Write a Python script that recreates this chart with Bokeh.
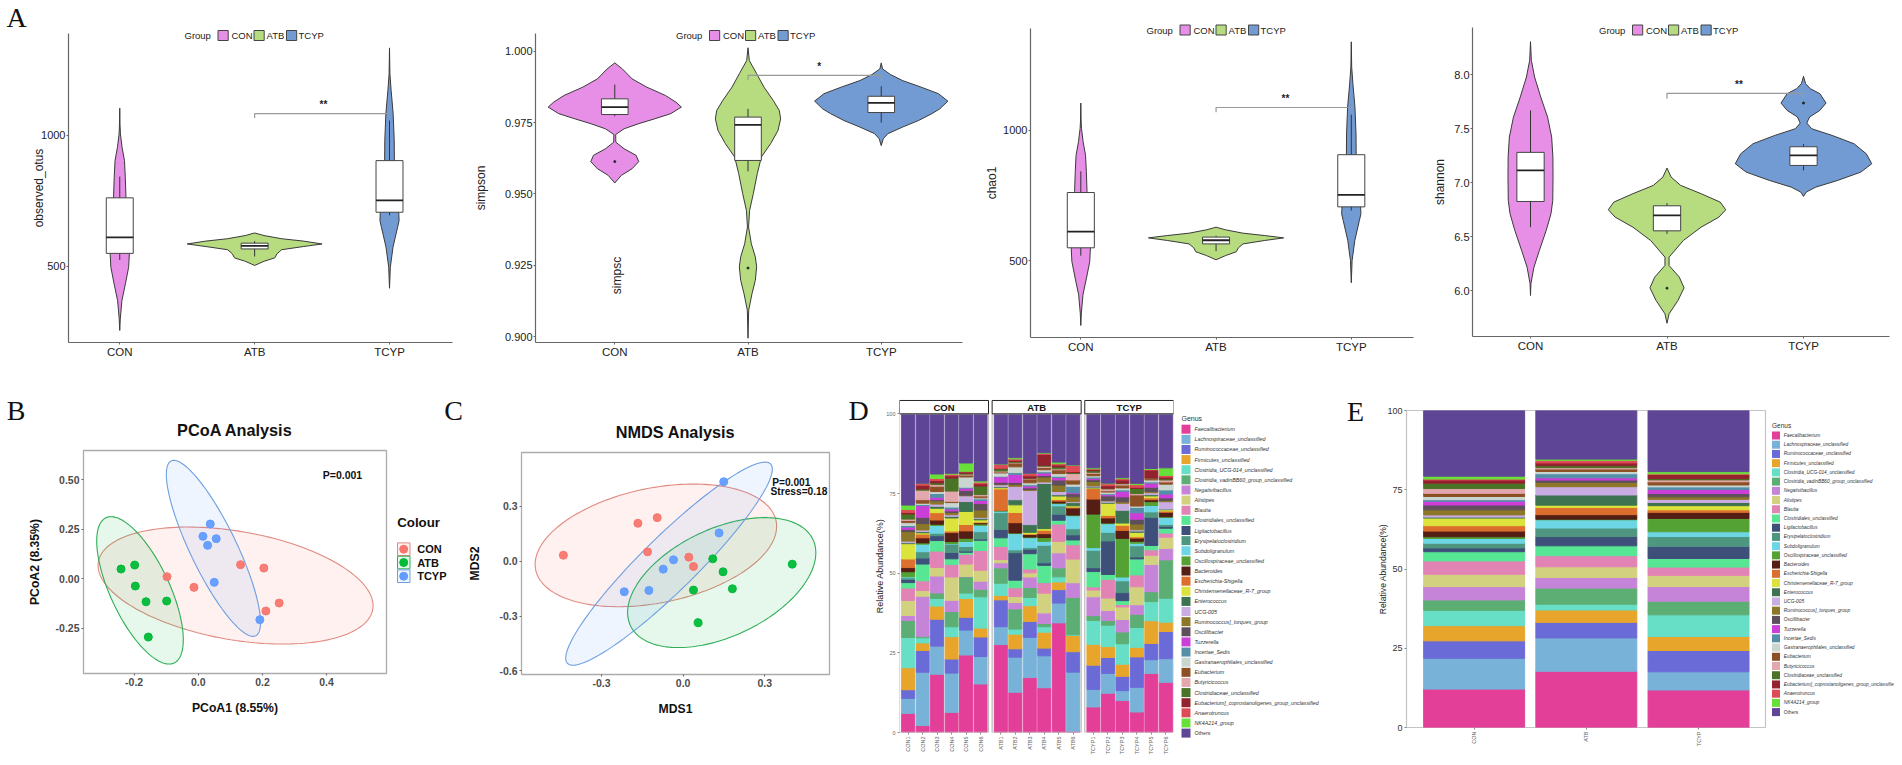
from math import pi
import numpy as np
from bokeh.embed import file_html
from bokeh.layouts import column, row
from bokeh.models import ColumnDataSource, FixedTicker, Label, Range1d
from bokeh.plotting import figure
from bokeh.resources import INLINE
from bokeh.core.properties import value

FONT = "Liberation Sans"
GROUPS = ["CON", "ATB", "TCYP"]
VCOL = ["#E78EE6", "#B6DC7F", "#739BD3"]
PCOL = ["#F8766D", "#00BA38", "#619CFF"]
ECOL = ["#E08A80", "#2EAE55", "#6D9FE0"]

# ---------- violin profiles: value, half width ----------
otus_con_y = [1104, 1040, 1006, 955, 904, 841, 765, 688, 625, 548, 497, 434, 370, 300, 256]
otus_con_w = [0, .002, .005, .017, .035, .041, .046, .055, .063, .071, .066, .042, .016, .004, 0]
otus_atb_y = [628, 618, 606, 597, 586, 576, 564, 548, 533, 520, 504]
otus_atb_w = [0, .07, .2, .36, .5, .36, .2, .165, .15, .07, 0]
otus_tcyp_y = [1334, 1235, 1172, 1083, 981, 904, 803, 714, 675, 650, 574, 497, 417]
otus_tcyp_w = [0, .003, .012, .027, .035, .036, .042, .068, .071, .06, .026, .006, 0]
otus_box = [[525, 550, 611, 762, 843], [538, 567, 579, 589, 597], [695, 707, 752, 904, 1057]]

simp_con_y = [.9959, .9938, .9903, .9874, .9845, .9821, .9804, .9781, .9763, .9746, .9728, .9708, .9681, .9658, .9635, .9613, .9588, .9565, .9538]
simp_con_w = [0, .057, .13, .24, .38, .46, .5, .42, .3, .18, .07, .007, .008, .07, .16, .18, .13, .05, 0]
simp_atb_y = [1.0012, .9967, .9921, .9874, .9827, .9792, .9763, .9722, .9676, .9629, .9571, .9501, .9442, .9384, .9325, .9279, .9244, .9197, .915, .9092, .8994]
simp_atb_w = [0, .01, .065, .12, .19, .235, .245, .225, .17, .1, .07, .04, .012, .004, .025, .055, .065, .055, .03, .005, 0]
simp_tcyp_y = [.9959, .9938, .9918, .9897, .9874, .9851, .9825, .9798, .9781, .9757, .9734, .9711, .9693, .9669]
simp_tcyp_w = [0, .01, .07, .16, .3, .43, .5, .44, .38, .28, .16, .05, .015, 0]
simp_box = [[.9772, .9778, .9804, .9833, .9883], [.9579, .9617, .9742, .9769, .9798], [.975, .9785, .9819, .9842, .9877]]
simp_out = [[.9613], [.924], []]

chao_con_y = [1105, 1040, 1008, 957, 905, 843, 766, 689, 625, 549, 497, 434, 370, 300, 252]
chao_atb_y = [629, 619, 606, 597, 588, 578, 565, 550, 535, 520, 504]
chao_tcyp_y = [1340, 1243, 1179, 1090, 987, 907, 808, 719, 680, 655, 578, 501, 416]
chao_box = [[520, 550, 612, 762, 843], [537, 565, 579, 591, 596], [693, 707, 753, 907, 1061]]

shan_con_y = [8.309, 8.136, 7.981, 7.796, 7.610, 7.425, 7.240, 7.054, 6.838, 6.714, 6.560, 6.374, 6.219, 6.065, 5.957]
shan_con_w = [0, .006, .03, .075, .125, .155, .164, .165, .163, .15, .115, .065, .025, .003, 0]
shan_atb_y = [7.138, 7.054, 6.977, 6.900, 6.822, 6.751, 6.683, 6.590, 6.467, 6.312, 6.235, 6.127, 6.028, 5.910, 5.787, 5.700]
shan_atb_w = [0, .03, .1, .25, .39, .43, .38, .25, .12, .015, .015, .09, .125, .08, .015, 0]
shan_tcyp_y = [7.988, 7.920, 7.873, 7.827, 7.740, 7.672, 7.611, 7.555, 7.502, 7.440, 7.363, 7.270, 7.178, 7.100, 7.023, 6.961, 6.915, 6.875]
shan_tcyp_w = [0, .015, .05, .12, .165, .12, .045, .024, .06, .21, .37, .46, .5, .42, .25, .09, .02, 0]
shan_box = [[6.59, 6.828, 7.116, 7.283, 7.672], [6.528, 6.556, 6.70, 6.788, 6.813], [7.116, 7.162, 7.255, 7.335, 7.36]]
shan_out = [[], [6.025], [7.74]]

# ---------- ordination points ----------
pcoa_x = [[-.0976, -.0135, .1318, .2045, .2522, .2107], [-.2408, -.1982, -.1962, -.1629, -.0986, -.1557], [.0374, .0145, .056, .0291, .0498, .192]]
pcoa_y = [[.0101, -.0438, .0708, .0539, -.1231, -.1635], [.0489, .0691, -.0371, -.1163, -.1129, -.295], [.2765, .2141, .2023, .1686, -.0185, -.2073]]
# ellipse extents: xmin, xmax, ymin, ymax, correlation
pcoa_ell = [[-.3124, .5449, -.3304, .2613, -.345], [-.3166, -.0467, -.4316, .3136, -.67], [-.0996, .1941, -.2916, .5984, -.84]]
nmds_x = [[-.44, -.1662, -.0953, -.1308, .0208, .0379], [.1088, .1466, .4008, .1809, .0379, .055], [.1491, .132, -.0354, -.0733, -.1259, -.2163]]
nmds_y = [[.0327, .2073, .2382, .0509, .0218, -.0291], [.0127, -.0582, -.0164, -.1509, -.1582, -.3364], [.4345, .1545, .0073, -.0436, -.16, -.1673]]
nmds_ell = [[-.5438, .3434, -.2491, .4218, .31], [-.2041, .4875, -.4727, .2382, .46], [-.4314, .3275, -.5691, .5418, .93]]

# ---------- genera ----------
GENERA = ["Faecalibacterium", "Lachnospiraceae_unclassified", "Ruminococcaceae_unclassified", "Firmicutes_unclassified",
          "Clostridia_UCG-014_unclassified", "Clostridia_vadinBB60_group_unclassified", "Negativibacillus", "Alistipes",
          "Blautia", "Clostridiales_unclassified", "Ligilactobacillus", "Erysipelatoclostridium", "Subdoligranulum",
          "Oscillospiraceae_unclassified", "Bacteroides", "Escherichia-Shigella", "Christensenellaceae_R-7_group",
          "Enterococcus", "UCG-005", "Ruminococcus]_torques_group", "Oscillibacter", "Tuzzerella", "Incertae_Sedis",
          "Gastranaerophilales_unclassified", "Eubacterium", "Butyricicoccus", "Clostridiaceae_unclassified",
          "Eubacterium]_coprostanoligenes_group_unclassified", "Anaerotruncus", "NK4A214_group", "Others"]
GCOL = ["#E33E98", "#78B2D8", "#6B6BD8", "#E7A52B", "#67DEC6", "#5DAE74", "#C684D8", "#D2D17F", "#E283B5", "#57E693",
        "#3E4F7A", "#4F9680", "#6CD6E4", "#54A234", "#541E14", "#DC6F2E", "#DBE33C", "#3D7350", "#C9ADE2", "#8C7628",
        "#5E4F5C", "#CB3FD8", "#548EA8", "#C9D6D0", "#8C5024", "#E2A8AE", "#4A7326", "#92222E", "#DE4A55", "#68E03A", "#5E4595"]

CON1 = [6.0, 4.7, 2.7, 6.9, 9.5, 5.3, 1.6, 4.7, 3.9, 1.7, 1.0, .5, .3, 1.6, 1.3, 2.7, 4.8, .3, .5, 3.0, .7, .7, .5, .9, .7, .4, 1.6, .5, .9, 1.4, 28.6]
CON2 = [2.2, 16.9, 6.9, 2.4, 1.6, .5, 12.7, 1.8, 3.1, 5.3, 1.9, 2, 2.4, .4, 1.6, 1.2, .4, .4, .5, 2, 2, 3.7, .4, .4, 1.1, 3, .4, 1.2, .5, .1, 22]
CON3 = [18.2, 8.8, 8.4, 4.1, 2.4, 1.7, 5.3, 2.7, 5.1, 3.3, 1.5, .8, 2.4, .4, 1.3, 2.3, 1.4, .6, .7, 1, .4, .7, 1.2, .6, 1.7, .5, .5, .8, .6, 1.4, 18.8]
CON4 = [6.3, 12.3, 4.4, 7, 3.1, 4.8, 3.5, 7.3, 3.9, 1.8, 2, 2.6, .2, .6, 2.8, .5, 4.1, .5, .5, .7, .5, .6, .6, 1.4, .4, 3.2, 4.1, .7, .5, .3, 18.6]
CON5 = [24.3, 7.8, 4, 5.9, 1.7, 5.1, .1, 3.9, 3.1, .6, .4, 1.4, 1.6, 1, 2.3, 2, 4.1, 3.1, 1.8, .2, 1.5, .7, .3, 3.2, .6, .3, .3, .4, .2, 2.6, 15.4]
CON6 = [15.2, 8.6, 6.1, 2.8, 9.8, 2.4, 2.5, 3.4, 6.2, 3.2, .4, 2.3, 2, .4, .4, .2, .7, .5, .3, 2.3, 2, 1, .5, .3, .6, .4, 2.7, .7, .5, .4, 21]
ATB1 = [27.5, 5.6, 8.4, 1.4, 3.8, 4.8, 1.6, 1, 4.1, 2.7, 2.6, 5.3, .5, .1, .1, 6.7, .4, .3, .6, .2, .6, 1.7, .2, 1, .3, .3, .7, .2, 1.2, .1, 15.7]
ATB2 = [12.6, 11, 2.6, 4.6, 1.6, 6.3, 2, 1.9, 2.7, 2.4, 8.6, .9, 5.1, .2, 3.2, 3.2, 2.4, 1.6, 4.2, .6, .6, 2.5, .6, 1.8, 1.2, .2, .3, .4, .4, .4, 13.7]
ATB3 = [17.2, 12.6, 5, 4.9, 2.6, 3.1, 3.3, 1.3, 1.2, 4.8, 1.4, .5, 3.1, .2, .8, .2, .5, 2.4, 10.7, .3, .5, .6, .4, .6, 1.2, .2, .1, .7, .7, .1, 18.6]
ATB4 = [14, 10, 2.4, 5, 1.7, 1, 3.3, 6.2, 3.3, 5.4, .8, 5.5, 1.2, 1.2, 1.2, 1.1, .5, 14.1, .5, 1.5, .5, .8, .4, .6, .7, .4, .3, 3.4, .3, .2, 12.2]
ATB5 = [34.3, 6.2, 4.2, 2.4, 1.6, 2.8, 4.7, 3.6, 5.4, 1.2, 1.9, 2.6, .7, .2, .6, .5, 1.1, .4, 1, 2, 1.6, .8, .4, .8, 1.2, .3, .6, .6, .4, .5, 15.1]
ATB6 = [.4, 18.5, 6.4, 5.1, .2, 11.7, 4.6, 7.4, 4.5, 1.5, 1.6, 1.9, 4.1, .2, 2.2, .3, .4, 1, .3, 1.5, 1, .3, 2, .7, 1.3, 2, .3, .3, 2, .1, 16]
TCYP1 = [8, 5.5, 7.6, 6.5, 7.5, 1.5, 5.9, 2.1, 1, 4.8, 1.2, 5.5, .8, 10.5, 4.7, 3.3, .2, .3, .3, 1.4, .6, .4, .4, .4, .8, .3, .5, .4, .2, .3, 16.9]
TCYP2 = [12.3, 6.2, 5, 3.4, 6.7, 1.5, 3.1, 3.9, 5.9, 1.5, 10.5, 2.7, 2.7, .2, 1.6, .8, 3.8, .3, .4, .2, 1.4, .4, .3, .5, .4, .6, .2, .8, .6, .2, 21.7]
TCYP3 = [10, 3.1, 4.5, 3.8, 6.4, 3.7, 3.9, 3.9, .8, 1.2, 2.5, 3.7, 1.2, 12.1, 2.5, 1.6, .7, 4, 2.2, .5, 1.5, 1.7, .5, .6, .9, .4, .2, 1, .4, .3, 20]
TCYP4 = [6.4, 7.7, 9.5, 3, 6.2, 4.1, 3, 5.6, 3.7, 5, .6, 3.5, .8, .6, 1, .4, 1.4, .4, .4, 1.8, 1.5, 2, 1.7, .4, 3.5, .4, 1.6, .4, .8, .4, 21.7]
TCYP5 = [18.5, 4.3, 5.1, 7.1, 6, 3.1, 8.5, 2.9, 1.7, 1.4, 8.8, 1.7, 2, 1.2, .6, .6, .6, .4, .6, .4, 1.3, 1.3, .4, .6, .4, .2, 0, 2.5, .2, .3, 17.1]
TCYP6 = [15.7, 7.4, 8.5, 2.9, 7.5, 12, 3.6, 3.5, 1.3, 1.5, .6, .6, 2.2, .2, 1.4, .4, .4, .2, 2.3, .4, .8, 1.2, 1.3, 1.8, .7, .6, .4, .5, .5, 2.4, 16.9]
E_CON = [12.1, 9.7, 5.5, 4.8, 4.8, 3.3, 4.2, 3.9, 4.2, 2.9, 1.2, 1.5, 1.5, .5, 1.8, 1.7, 2.4, .3, .7, 1.6, 1.5, 1.2, .5, 1, 1, 1.5, 1.7, 1, .3, .9, 20.7]
E_ATB = [17.7, 10.5, 4.9, 3.9, 1.8, 5.1, 3.3, 3.4, 3.5, 3.1, 2.9, 2.7, 2.6, .2, 1.4, 2.3, .7, 3.2, 2.6, 1.4, .7, .7, 1.3, .7, .8, .4, .6, .9, .8, .4, 15.3]
E_TCYP = [11.8, 5.7, 6.7, 4.4, 6.8, 4.3, 4.6, 3.5, 2.6, 2.7, 3.8, 3.1, 1.5, 4.2, 1.9, .8, 1.3, 1, 1, .8, 1, 1.3, .8, .6, 1, .6, .4, 1.3, .2, .7, 19.2]


def lab(p, box, x, y, text, size, color="#222222", style="normal", align="center", angle=0, font=FONT):
    """Text placed at page coordinates inside a frame; box = (frame left, frame bottom)."""
    p.add_layout(Label(x=x - box[0], y=box[1] - y, x_units="screen", y_units="screen", text=text,
                       text_font=font, text_font_size=f"{size}px", text_color=color, text_font_style=style,
                       text_align=align, text_baseline="middle", angle=angle))


def base(w, h, l, r, t, b, xr, yr):
    p = figure(width=w, height=h, min_border_left=l, min_border_right=r, min_border_top=t, min_border_bottom=b,
               x_range=Range1d(*xr), y_range=Range1d(*yr), output_backend="svg", toolbar_location=None,
               outline_line_color=None, frame_align=False)
    p.grid.visible = False
    for ax in (p.xaxis[0], p.yaxis[0]):
        ax.minor_tick_line_color = None
        ax.major_tick_in = 0
        ax.major_tick_out = 2
        ax.major_label_text_font = FONT
        ax.axis_label_text_font = FONT
        ax.axis_label_text_font_style = "normal"
    return p


def violin_panel(w, l, r, t, b, xr, yr, yticks, ylabel, standoff, profiles, boxes, outliers, bracket, stars, tickfmt=None):
    p = base(w, 372, l, r, t, b, xr, yr)
    for i, (vy, vw) in enumerate(profiles):
        vy, vw = np.array(vy, float), np.array(vw, float)
        xs = np.r_[i + 1 - vw, (i + 1 + vw)[::-1]]
        ys = np.r_[vy, vy[::-1]]
        p.patch(xs, ys, fill_color=VCOL[i], line_color="#3A3A3A", line_width=1)
    cx = [1, 2, 3]
    lo, q1, med, q3, hi = zip(*boxes)
    p.segment(cx, lo, cx, hi, line_color="#333333", line_width=1)
    p.quad(left=[c - .1 for c in cx], right=[c + .1 for c in cx], bottom=q1, top=q3, fill_color="white",
           line_color="#444444", line_width=1)
    p.segment([c - .1 for c in cx], med, [c + .1 for c in cx], med, line_color="#222222", line_width=1.8)
    ox = [c for c, o in zip(cx, outliers) for _ in o]
    oy = [v for o in outliers for v in o]
    if ox:
        p.scatter(ox, oy, size=2, color="#222222")
    p.line([2, 2, 3, 3], bracket, line_color="#999999", line_width=1.2)
    ax = p.yaxis[0]
    ax.ticker = FixedTicker(ticks=yticks)
    ax.axis_label = ylabel
    ax.axis_label_text_font_size = "12px"
    ax.axis_label_text_color = "#222222"
    ax.axis_label_standoff = standoff
    ax.major_label_text_font_size = "11px"
    ax.major_label_text_color = "#222222"
    ax.major_label_standoff = 1
    ax.axis_line_color = "#666666"
    ax.axis_line_width = 1.2
    ax.major_tick_line_color = "#666666"
    if tickfmt:
        ax.major_label_overrides = {v: tickfmt % v for v in yticks}
    xa = p.xaxis[0]
    xa.ticker = FixedTicker(ticks=cx)
    xa.major_label_overrides = dict(zip(cx, GROUPS))
    xa.major_label_text_font_size = "11.5px"
    xa.major_label_text_color = "#222222"
    xa.major_label_standoff = 1
    xa.axis_line_color = "#666666"
    xa.axis_line_width = 1.2
    xa.major_tick_line_color = "#666666"
    lab(p, (l + stars[2], stars[3]), stars[0], stars[1], stars[4], 10, style="bold")
    return p


def ellipse_pts(e):
    xmin, xmax, ymin, ymax, rho = e
    t = np.linspace(0, 2 * pi, 181)
    cx, cy, rx, ry = (xmin + xmax) / 2, (ymin + ymax) / 2, (xmax - xmin) / 2, (ymax - ymin) / 2
    return cx + rx * np.cos(t), cy + ry * (rho * np.cos(t) + np.sqrt(1 - rho ** 2) * np.sin(t))


def ord_panel(w, l, r, t, b, xr, yr, xticks, yticks, xfmt, yfmt, xlabel, ylabel, yoff, title, xs, ys, ells):
    p = base(w, 385, l, r, t, b, xr, yr)
    p.outline_line_color = "#ABABAB"
    p.outline_line_width = 1.3
    for i in range(3):
        ex, ey = ellipse_pts(ells[i])
        p.patch(ex, ey, fill_color=PCOL[i], fill_alpha=.1, line_color=ECOL[i], line_width=1.1)
    for i in range(3):
        p.scatter(xs[i], ys[i], size=8, fill_color=PCOL[i], line_color=PCOL[i], fill_alpha=.95)
    for ax, ticks, fmt in ((p.xaxis[0], xticks, xfmt), (p.yaxis[0], yticks, yfmt)):
        ax.ticker = FixedTicker(ticks=ticks)
        ax.major_label_overrides = {v: fmt % v for v in ticks}
        ax.major_label_text_font_size = "10.5px"
        ax.major_label_text_font_style = "bold"
        ax.major_label_text_color = "#4D4D4D"
        ax.major_label_standoff = 2
        ax.axis_line_color = None
        ax.major_tick_line_color = "#666666"
        ax.axis_label_text_font_style = "bold"
        ax.axis_label_text_font_size = "12.2px"
        ax.axis_label_text_color = "#111111"
    p.xaxis[0].axis_label = xlabel
    p.xaxis[0].axis_label_standoff = 12
    p.yaxis[0].axis_label = ylabel
    p.yaxis[0].axis_label_standoff = yoff
    p.title.text = title
    p.title.align = "center"
    p.title.text_font = FONT
    p.title.text_font_size = "16.3px"
    p.title.text_color = "#111111"
    p.title.standoff = 24
    return p


def style_bar_axes(p, tick_size, tick_color):
    for ax in (p.xaxis[0], p.yaxis[0]):
        ax.axis_line_color = None
        ax.major_tick_line_color = "#888888"
        ax.major_label_text_color = tick_color
        ax.major_label_text_font_size = tick_size
        ax.major_label_standoff = 2
    p.xaxis[0].major_label_orientation = pi / 2


def table(rows):
    arr = np.array(rows, float)
    arr = arr / arr.sum(axis=1, keepdims=True) * 100
    return {f"g{i}": arr[:, i] for i in range(arr.shape[1])}


# ---------- panel A ----------
a1 = violin_panel(470, 68, 18, 33, 30, (.62, 3.467), (210, 1389), [500, 1000], "observed_otus", -8,
                  [(otus_con_y, otus_con_w), (otus_atb_y, otus_atb_w), (otus_tcyp_y, otus_tcyp_w)], otus_box, [[], [], []],
                  [1067, 1083, 1083, 1076], (323, 103.5, 0, 342, "**"))
a2 = violin_panel(510, 61, 18, 33, 30, (.405, 3.61), (.8979, 1.0062), [.9, .925, .95, .975, 1.0], "simpson", 14,
                  [(simp_con_y, simp_con_w), (simp_atb_y, simp_atb_w), (simp_tcyp_y, simp_tcyp_w)], simp_box, simp_out,
                  [.9898, .9915, .9915, .9898], (814.7, 65.5, 470, 342, "*"), tickfmt="%.3f")
lab(a2, (531, 342), 612, 275, "simpsc", 12, angle=pi / 2)
a3 = violin_panel(450, 50, 17, 28, 35, (.628, 3.46), (206, 1391), [500, 1000], "chao1", 1,
                  [(chao_con_y, otus_con_w), (chao_atb_y, otus_atb_w), (chao_tcyp_y, otus_tcyp_w)], chao_box, [[], [], []],
                  [1070, 1088, 1088, 1080], (1285, 98, 980, 337, "**"))
a4 = violin_panel(464, 39, 5, 27, 36, (.575, 3.63), (5.577, 8.44), [6, 6.5, 7, 7.5, 8], "shannon", 4,
                  [(shan_con_y, shan_con_w), (shan_atb_y, shan_atb_w), (shan_tcyp_y, shan_tcyp_w)], shan_box, shan_out,
                  [7.78, 7.83, 7.83, 7.79], (1735.4, 83.5, 1430, 336, "**"), tickfmt="%.1f")

# ---------- panels B, C ----------
b = ord_panel(445, 83, 59, 78, 84, (-.3578, .5868), (-.4793, .6483), [-.2, 0, .2, .4], [-.25, 0, .25, .5], "%.1f", "%.2f",
              "PCoA1 (8.55%)", "PCoA2 (8.35%)", 11, "PCoA Analysis", pcoa_x, pcoa_y, pcoa_ell)
lab(b, (83, 673), 342, 474, "P=0.001", 10.5, color="#111111", style="bold")
c = ord_panel(410, 76, 26, 80, 83, (-.5939, .5377), (-.62, .5945), [-.3, 0, .3], [-.6, -.3, 0, .3], "%.1f", "%.1f",
              "MDS1", "MDS2", 14, "NMDS Analysis", nmds_x, nmds_y, nmds_ell)
lab(c, (521, 674), 771.7, 482, "P=0.001", 10.2, color="#111111", style="bold", align="left")
lab(c, (521, 674), 770, 491, "Stress=0.18", 10.2, color="#111111", style="bold", align="left")

# ---------- panel D ----------
SAMPLES = [f"CON{i}" for i in range(1, 7)] + [f"ATB{i}" for i in range(1, 7)] + [f"TCYP{i}" for i in range(1, 7)]
d_rows = [CON1, CON2, CON3, CON4, CON5, CON6, ATB1, ATB2, ATB3, ATB4, ATB5, ATB6, TCYP1, TCYP2, TCYP3, TCYP4, TCYP5, TCYP6]
d_x = [g * 6.4 + i for g in range(3) for i in range(6)]
d = base(495, 385, 44, 177, 27, 19, (-.6, 18.33), (0, 104.5))
d_src = ColumnDataSource(dict(x=d_x, **table(d_rows)))
keys = [f"g{i}" for i in range(31)]
d.vbar_stack(keys, x="x", width=.9, color=GCOL, source=d_src)
gx0 = [g * 6.4 - .6 for g in range(3)]
gx1 = [g * 6.4 + 5.55 for g in range(3)]
d.quad(left=gx0, right=gx1, bottom=[0] * 3, top=[100] * 3, fill_color=None, line_color="#BDBDBD", line_width=1.3)
d.quad(left=gx0, right=gx1, bottom=[100] * 3, top=[104.2] * 3, fill_color="white", line_color="#222222", line_width=1)
d.text(x=[(a + e) / 2 for a, e in zip(gx0, gx1)], y=[102.1] * 3, text=GROUPS, text_font=value(FONT), text_font_style="bold",
       text_font_size="9.5px", text_align="center", text_baseline="middle", text_color="#111111")
d.xaxis[0].ticker = FixedTicker(ticks=d_x)
d.xaxis[0].major_label_overrides = dict(zip(d_x, SAMPLES))
d.yaxis[0].ticker = FixedTicker(ticks=[0, 25, 50, 75, 100])
style_bar_axes(d, "5.5px", "#666666")
d.yaxis[0].axis_label = "Relative Abundance(%)"
d.yaxis[0].axis_label_text_font_size = "9px"
d.yaxis[0].axis_label_text_color = "#222222"
d.yaxis[0].axis_label_standoff = -2

# ---------- panel E ----------
e_rows = [E_CON, E_ATB, E_TCYP]
e_x = [1, 2, 3]
e = base(544, 385, 56, 129, 38, 30, (.397, 3.597), (0, 100))
e.outline_line_color = "#C4C4C4"
e.outline_line_width = 1.2
e_src = ColumnDataSource(dict(x=e_x, **table(e_rows)))
e.vbar_stack(keys, x="x", width=.9, color=GCOL, source=e_src)
e.xaxis[0].ticker = FixedTicker(ticks=e_x)
e.xaxis[0].major_label_overrides = dict(zip(e_x, GROUPS))
e.yaxis[0].ticker = FixedTicker(ticks=[0, 25, 50, 75, 100])
style_bar_axes(e, "5.5px", "#666666")
e.yaxis[0].major_label_text_font_size = "9px"
e.yaxis[0].major_label_text_color = "#333333"
e.yaxis[0].axis_label = "Relative Abundance(%)"
e.yaxis[0].axis_label_text_font_size = "8.6px"
e.yaxis[0].axis_label_text_color = "#222222"
e.yaxis[0].axis_label_standoff = -4

# ---------- overlay: panel letters and legends, positioned in page pixels ----------
ov = figure(width=1894, height=757, x_range=Range1d(0, 1894), y_range=Range1d(757, 0), x_axis_location=None, y_axis_location=None,
            min_border=0, output_backend="svg", toolbar_location=None, outline_line_color=None, background_fill_alpha=0,
            border_fill_alpha=0, frame_align=False)
ov.grid.visible = False
ov.styles = {"position": "absolute", "left": "0px", "top": "0px", "pointer-events": "none"}


def otext(x, y, t, size, color="#222222", style="normal", align="left", font=FONT):
    ov.text(x=[x], y=[y], text=[t], text_font=value(font), text_font_size=f"{size}px", text_color=color,
            text_font_style=style, text_align=align, text_baseline="middle")


for t, x, y in (("A", 16, 17), ("B", 15.6, 410), ("C", 453, 410), ("D", 858, 410), ("E", 1355, 410.7)):
    otext(x, y, t, 28, color="#111111", align="center", font="Liberation Serif")

for dx, y in ((0, 35), (491.5, 35), (962, 29.5), (1414.5, 29.5)):
    otext(184 + dx, y, "Group", 9.5)
    for i, (sx, lx) in enumerate(((217.5, 231), (253.5, 266), (286, 298))):
        ov.quad(left=[sx + dx], right=[sx + dx + 10.2], top=[y - 5], bottom=[y + 5], fill_color=VCOL[i],
                line_color="#444444", line_width=1)
        otext(lx + dx, y, GROUPS[i], 9.5)

otext(396.7, 521.7, "Colour", 13.3, color="#111111", style="bold")
for i, y in enumerate((548.7, 562, 575.7)):
    ov.quad(left=[397], right=[409.5], top=[y - 6.3], bottom=[y + 6.3], fill_color=PCOL[i], fill_alpha=.1,
            line_color=ECOL[i], line_width=1)
    ov.scatter([403.2], [y], size=8, fill_color=PCOL[i], line_color=PCOL[i])
    otext(416.7, y, GROUPS[i], 11, color="#111111", style="bold")


def genus_legend(x0, title_y, y0, step, box, lx, size, tsize):
    otext(x0, title_y, "Genus", tsize, color="#333333")
    for i, g in enumerate(GENERA):
        y = y0 + i * step
        ov.quad(left=[x0], right=[x0 + box], top=[y - box / 2], bottom=[y + box / 2], fill_color=GCOL[i], line_color=None)
        otext(lx, y, g, size, color="#333333", style="normal" if g == "Others" else "italic")


genus_legend(1181, 417.7, 428.7, 10.13, 9, 1194, 5.3, 7)
genus_legend(1771.5, 425, 435, 9.22, 8, 1783.3, 4.8, 6.5)

page = column(row(a1, a2, a3, a4, spacing=0), row(b, c, d, e, spacing=0), ov, spacing=0)
open("out.html", "w").write(file_html(page, INLINE))
